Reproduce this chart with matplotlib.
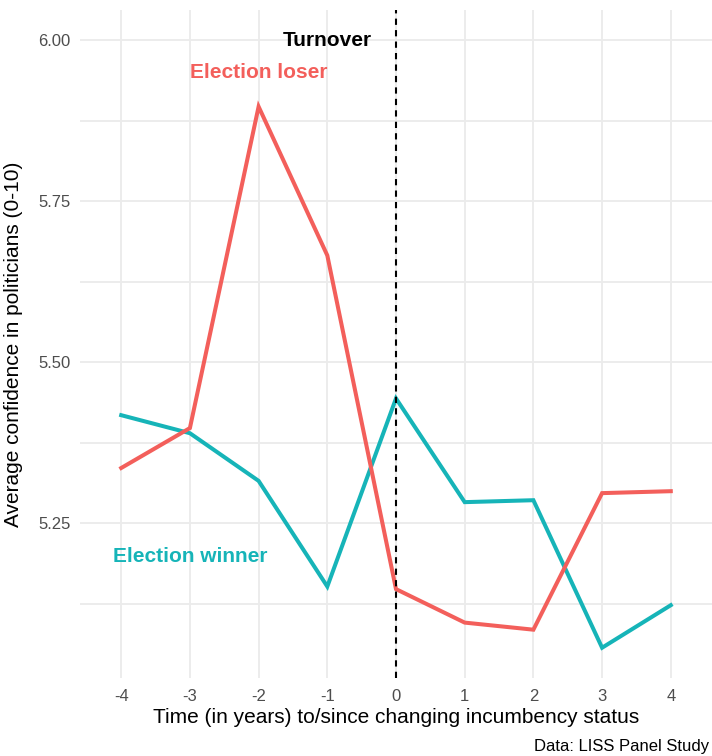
import numpy as np
import matplotlib
matplotlib.use("Agg")
import matplotlib.pyplot as plt

# --- data ---
years = [-4, -3, -2, -1, 0, 1, 2, 3, 4]
loser = [5.336, 5.398, 5.897, 5.666, 5.148, 5.096, 5.085, 5.297, 5.300]
winner = [5.418, 5.390, 5.316, 5.152, 5.444, 5.283, 5.286, 5.057, 5.123]
y_ticks = [5.25, 5.50, 5.75, 6.00]
y_minor = [5.125, 5.375, 5.625, 5.875]

red = "#F35F5B"
teal = "#16B4B8"
grid_col = "#EBEBEB"

plt.rcParams['font.family'] = ['Liberation Sans', 'DejaVu Sans']

W, H = 712, 756
fig = plt.figure(figsize=(W / 100, H / 100), dpi=100)
ax = fig.add_axes([80 / W, 1 - 678 / H, (712 - 80) / W, (678 - 10) / H])

ax.plot(years, winner, color=teal, linewidth=2.9, solid_joinstyle="miter", zorder=3)
ax.plot(years, loser, color=red, linewidth=2.9, solid_joinstyle="miter", zorder=3)
ax.axvline(0, color="black", linewidth=1.5, linestyle=(0, (3, 2.5)), zorder=4)

ax.text(-1, 6.0, "Turnover", ha="center", va="center", fontsize=15, fontweight="bold", color="black")
ax.text(-2, 5.95, "Election loser", ha="center", va="center", fontsize=15, fontweight="bold", color=red)
ax.text(-3, 5.198, "Election winner", ha="center", va="center", fontsize=15, fontweight="bold", color=teal)

ax.set_xlim(-4.6, 4.6)
ax.set_ylim(5.010, 6.047)
ax.set_xticks(years)
ax.set_xticklabels([str(y) for y in years])
ax.set_yticks(y_ticks)
ax.set_yticklabels(["%.2f" % v for v in y_ticks])
ax.set_yticks(y_minor, minor=True)

ax.grid(True, which="major", color=grid_col, linewidth=1.3, zorder=0)
ax.grid(True, which="minor", axis="y", color=grid_col, linewidth=1.3, zorder=0)
ax.set_axisbelow(True)
for s in ax.spines.values():
    s.set_visible(False)
ax.tick_params(which="both", length=0)
ax.tick_params(axis="y", labelsize=12, labelcolor="#4D4D4D", pad=7)
ax.tick_params(axis="x", labelsize=12, labelcolor="#4D4D4D", pad=8)

ax.set_xlabel("Time (in years) to/since changing incumbency status", fontsize=15, color="black", labelpad=3)
ax.set_ylabel("Average confidence in politicians (0-10)", fontsize=15, color="black")
ax.yaxis.set_label_coords(-57 / 632, 0.5)

fig.text(709 / W, 1 - 746 / H, "Data: LISS Panel Study", ha="right", va="center", fontsize=12, color="black")

fig.savefig("out.png", dpi=100)
